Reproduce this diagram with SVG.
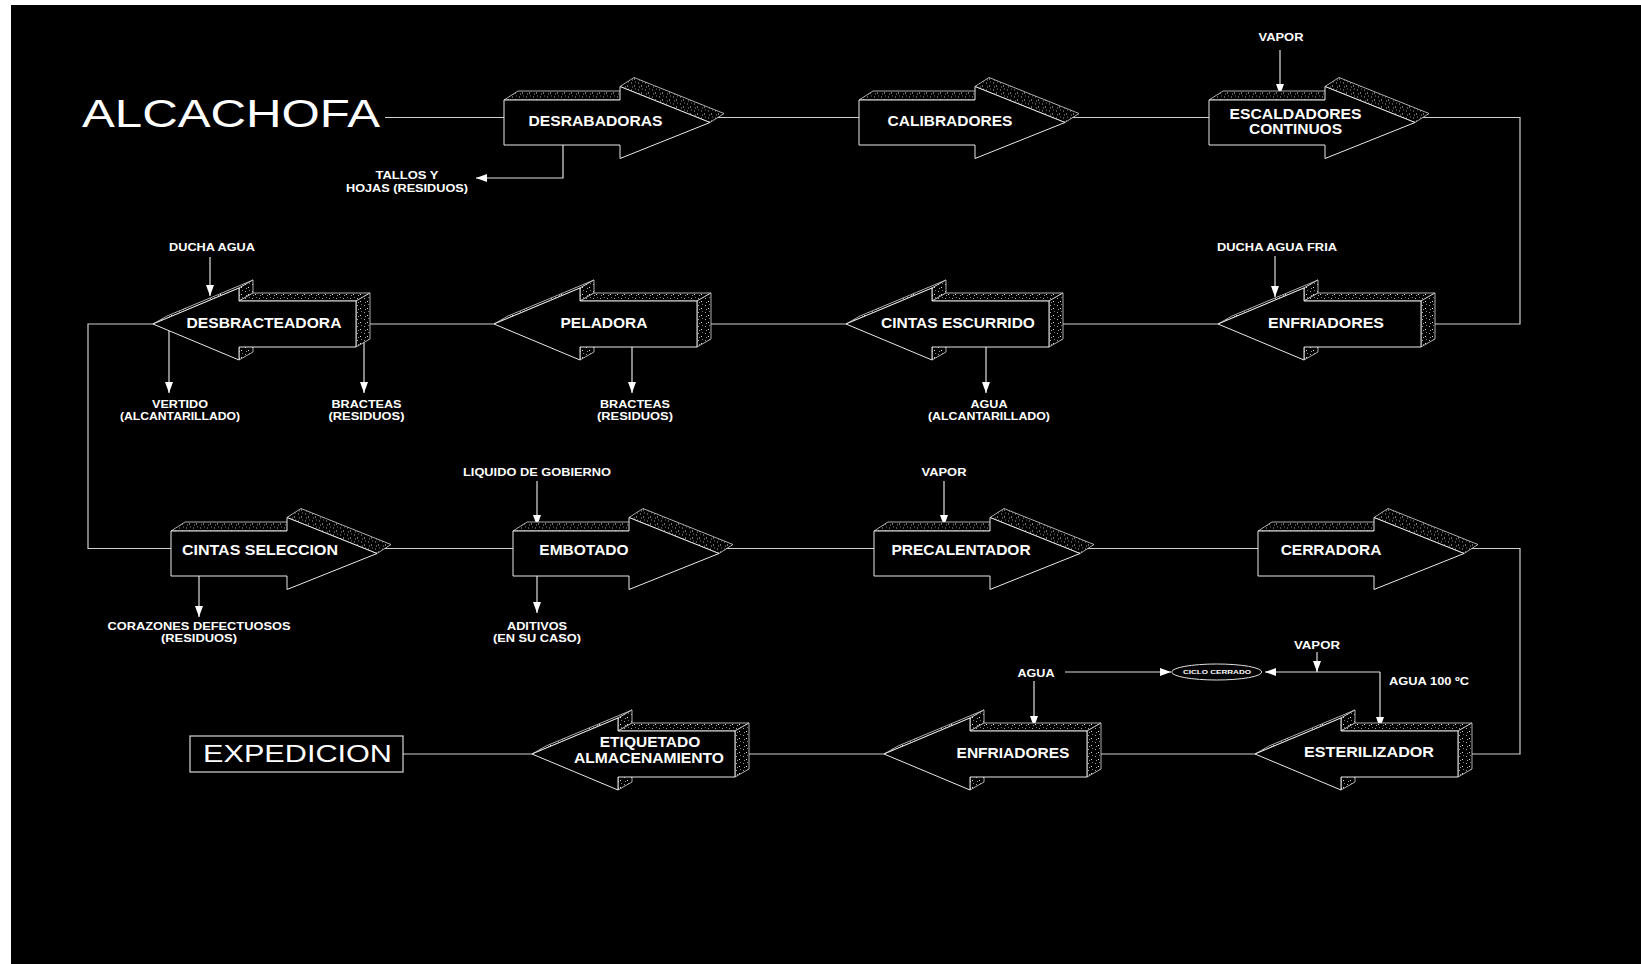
<svg xmlns="http://www.w3.org/2000/svg" xmlns:xlink="http://www.w3.org/1999/xlink" width="1641" height="964" viewBox="0 0 1641 964">
<style>
.t{font-family:"Liberation Sans",Arial,sans-serif;fill:#fff}
.lb{font-size:15.5px;font-weight:bold;text-anchor:middle}
.sm{font-size:10.5px;font-weight:bold;text-anchor:middle}
.big{font-weight:normal}
.ext{fill:url(#sp);stroke:#d8d8d8;stroke-width:0.8;stroke-linejoin:round}
.face{fill:#000;stroke:#e8e8e8;stroke-width:1}
.cn{fill:none;stroke:#cfcfcf;stroke-width:1.2}
.ar{fill:none;stroke:#e0e0e0;stroke-width:1.2;marker-end:url(#ah)}
</style>
<defs>
<pattern id="sp" width="7" height="7" patternUnits="userSpaceOnUse">
<rect width="7" height="7" fill="#000"/>
<rect x="1" y="2" width="1" height="1" fill="#aaa"/>
<rect x="4" y="5" width="1" height="1" fill="#ddd"/>
<rect x="5" y="1" width="1" height="1" fill="#777"/>
<rect x="2" y="6" width="1" height="1" fill="#999"/>
</pattern>
<marker id="ah" viewBox="0 0 11 8" refX="11" refY="4" markerWidth="11" markerHeight="8" orient="auto" markerUnits="userSpaceOnUse">
<path d="M0,0 L11,4 L0,8 Z" fill="#fff"/>
</marker>
<g id="ra">
<path class="ext" d="M0,-22.5 L116,-22.5 L130,-31.5 L14,-31.5 Z"/>
<path class="ext" d="M116,-36 L206,0 L220,-9 L130,-45 Z"/>
<path class="face" d="M0,-22.5 L116,-22.5 L116,-36 L206,0 L116,36 L116,22.5 L0,22.5 Z"/>
</g>
<g id="la">
<path class="ext" d="M0,0 L86,-36 L100,-44 L14,-8 Z"/>
<path class="ext" d="M86,-36 L86,-23 L100,-31 L100,-44 Z"/>
<path class="ext" d="M86,-23 L203,-23 L217,-31 L100,-31 Z"/>
<path class="ext" d="M203,-23 L203,23 L217,15 L217,-31 Z"/>
<path class="ext" d="M86,23 L86,36 L100,28 L100,15 Z"/>
<path class="face" d="M0,0 L86,-36 L86,-23 L203,-23 L203,23 L86,23 L86,36 Z"/>
</g>
</defs>
<rect width="1641" height="964" fill="#fff"/>
<rect x="11" y="5" width="1630" height="959" fill="#000"/>

<g id="connectors">
<path class="cn" d="M385,117.5 H504"/>
<path class="cn" d="M620,117.5 H859"/>
<path class="cn" d="M975,117.5 H1209"/>
<path class="cn" d="M1325,117.5 H1520 V324 H1435"/>
<path class="cn" d="M1218,324 H1063"/>
<path class="cn" d="M846,324 H711"/>
<path class="cn" d="M494,324 H370"/>
<path class="cn" d="M153,324 H88 V548.5 H171"/>
<path class="cn" d="M287,548.5 H513"/>
<path class="cn" d="M629,548.5 H874"/>
<path class="cn" d="M990,548.5 H1258"/>
<path class="cn" d="M1374,548.5 H1520 V754 H1472"/>
<path class="cn" d="M1255,754 H1101"/>
<path class="cn" d="M884,754 H749"/>
<path class="cn" d="M532,754 H403"/>
<path class="ar" d="M563,140 V178 H476"/>
<path class="ar" d="M1280,50 V95"/>
<path class="ar" d="M210,257 V296"/>
<path class="ar" d="M1275,256 V297"/>
<path class="ar" d="M169,330 V393"/>
<path class="ar" d="M364,340 V393"/>
<path class="ar" d="M632,340 V393"/>
<path class="ar" d="M986,340 V393"/>
<path class="ar" d="M537,481 V526"/>
<path class="ar" d="M944,481 V526"/>
<path class="ar" d="M199,570 V617"/>
<path class="ar" d="M537,570 V613"/>
<path class="ar" d="M1034,681 V727"/>
<path class="ar" d="M1065,672 H1171"/>
<path class="ar" d="M1380,672 H1265"/>
<path class="ar" d="M1317,652 V672"/>
<path class="ar" d="M1380,672 V728"/>
</g>

<g id="n-alcachofa"><text class="t big" x="82" y="127" font-size="39" textLength="298" lengthAdjust="spacingAndGlyphs">ALCACHOFA</text></g>
<g id="n-desrabadoras"><use xlink:href="#ra" x="504" y="122.5"/><text class="t lb" x="595.5" y="126" textLength="134" lengthAdjust="spacingAndGlyphs">DESRABADORAS</text></g>
<g id="n-calibradores"><use xlink:href="#ra" x="859" y="122.5"/><text class="t lb" x="950" y="126">CALIBRADORES</text></g>
<g id="n-escaldadores"><use xlink:href="#ra" x="1209" y="122.5"/><text class="t lb" x="1295.5" y="118.5" textLength="132" lengthAdjust="spacingAndGlyphs">ESCALDADORES</text><text class="t lb" x="1295.5" y="133.5">CONTINUOS</text></g>
<g id="n-enfriadores1"><use xlink:href="#la" x="1218" y="324"/><text class="t lb" x="1326" y="328" textLength="116" lengthAdjust="spacingAndGlyphs">ENFRIADORES</text></g>
<g id="n-cintas-escurrido"><use xlink:href="#la" x="846" y="324"/><text class="t lb" x="958" y="328">CINTAS ESCURRIDO</text></g>
<g id="n-peladora"><use xlink:href="#la" x="494" y="324"/><text class="t lb" x="604" y="328">PELADORA</text></g>
<g id="n-desbracteadora"><use xlink:href="#la" x="153" y="324"/><text class="t lb" x="264" y="327.5" textLength="155" lengthAdjust="spacingAndGlyphs">DESBRACTEADORA</text></g>
<g id="n-cintas-seleccion"><use xlink:href="#ra" x="171" y="553.5"/><text class="t lb" x="260" y="554.5" textLength="156" lengthAdjust="spacingAndGlyphs">CINTAS SELECCION</text></g>
<g id="n-embotado"><use xlink:href="#ra" x="513" y="553.5"/><text class="t lb" x="584" y="554.5">EMBOTADO</text></g>
<g id="n-precalentador"><use xlink:href="#ra" x="874" y="553.5"/><text class="t lb" x="961" y="554.5">PRECALENTADOR</text></g>
<g id="n-cerradora"><use xlink:href="#ra" x="1258" y="553.5"/><text class="t lb" x="1331" y="554.5">CERRADORA</text></g>
<g id="n-esterilizador"><use xlink:href="#la" x="1255" y="754"/><text class="t lb" x="1369" y="756.5" textLength="130" lengthAdjust="spacingAndGlyphs">ESTERILIZADOR</text></g>
<g id="n-enfriadores2"><use xlink:href="#la" x="884" y="754"/><text class="t lb" x="1013" y="758">ENFRIADORES</text></g>
<g id="n-etiquetado"><use xlink:href="#la" x="532" y="754"/><text class="t lb" x="650" y="747">ETIQUETADO</text><text class="t lb" x="649" y="763" textLength="150" lengthAdjust="spacingAndGlyphs">ALMACENAMIENTO</text></g>
<g id="n-expedicion"><rect x="190" y="736" width="213" height="36" fill="#000" stroke="#d8d8d8" stroke-width="1.2"/><text class="t big" x="203" y="762" font-size="24" textLength="189" lengthAdjust="spacingAndGlyphs">EXPEDICION</text></g>
<g id="n-ciclo"><ellipse cx="1216.7" cy="672" rx="45" ry="8" fill="#000" stroke="#e0e0e0" stroke-width="1"/><text class="t" x="1217" y="674.3" font-size="5.5" font-weight="bold" text-anchor="middle" textLength="68" lengthAdjust="spacingAndGlyphs">CICLO CERRADO</text></g>

<g id="labels">
<text class="t sm" x="1281" y="40.7" textLength="45" lengthAdjust="spacingAndGlyphs">VAPOR</text>
<text class="t sm" x="407" y="179" textLength="63" lengthAdjust="spacingAndGlyphs">TALLOS Y</text>
<text class="t sm" x="407" y="192" textLength="122" lengthAdjust="spacingAndGlyphs">HOJAS (RESIDUOS)</text>
<text class="t sm" x="212" y="250.7" textLength="86" lengthAdjust="spacingAndGlyphs">DUCHA AGUA</text>
<text class="t sm" x="1277" y="250.7" textLength="120" lengthAdjust="spacingAndGlyphs">DUCHA AGUA FRIA</text>
<text class="t sm" x="180" y="408.3" textLength="56" lengthAdjust="spacingAndGlyphs">VERTIDO</text>
<text class="t sm" x="180" y="420" textLength="120" lengthAdjust="spacingAndGlyphs">(ALCANTARILLADO)</text>
<text class="t sm" x="366.5" y="408.3" textLength="70" lengthAdjust="spacingAndGlyphs">BRACTEAS</text>
<text class="t sm" x="366.5" y="420" textLength="76" lengthAdjust="spacingAndGlyphs">(RESIDUOS)</text>
<text class="t sm" x="635" y="408.3" textLength="70" lengthAdjust="spacingAndGlyphs">BRACTEAS</text>
<text class="t sm" x="635" y="420" textLength="76" lengthAdjust="spacingAndGlyphs">(RESIDUOS)</text>
<text class="t sm" x="989" y="408.3" textLength="37" lengthAdjust="spacingAndGlyphs">AGUA</text>
<text class="t sm" x="989" y="420" textLength="122" lengthAdjust="spacingAndGlyphs">(ALCANTARILLADO)</text>
<text class="t sm" x="537" y="476" textLength="148" lengthAdjust="spacingAndGlyphs">LIQUIDO DE GOBIERNO</text>
<text class="t sm" x="944" y="476" textLength="45" lengthAdjust="spacingAndGlyphs">VAPOR</text>
<text class="t sm" x="199" y="630" textLength="183" lengthAdjust="spacingAndGlyphs">CORAZONES DEFECTUOSOS</text>
<text class="t sm" x="199" y="641.5" textLength="76" lengthAdjust="spacingAndGlyphs">(RESIDUOS)</text>
<text class="t sm" x="537" y="630" textLength="60" lengthAdjust="spacingAndGlyphs">ADITIVOS</text>
<text class="t sm" x="537" y="641.5" textLength="88" lengthAdjust="spacingAndGlyphs">(EN SU CASO)</text>
<text class="t sm" x="1036" y="677" textLength="37" lengthAdjust="spacingAndGlyphs">AGUA</text>
<text class="t sm" x="1317" y="649" textLength="46" lengthAdjust="spacingAndGlyphs">VAPOR</text>
<text class="t" x="1389" y="685" font-size="10.5" font-weight="bold" textLength="80" lengthAdjust="spacingAndGlyphs">AGUA 100 ºC</text>
</g>
</svg>
